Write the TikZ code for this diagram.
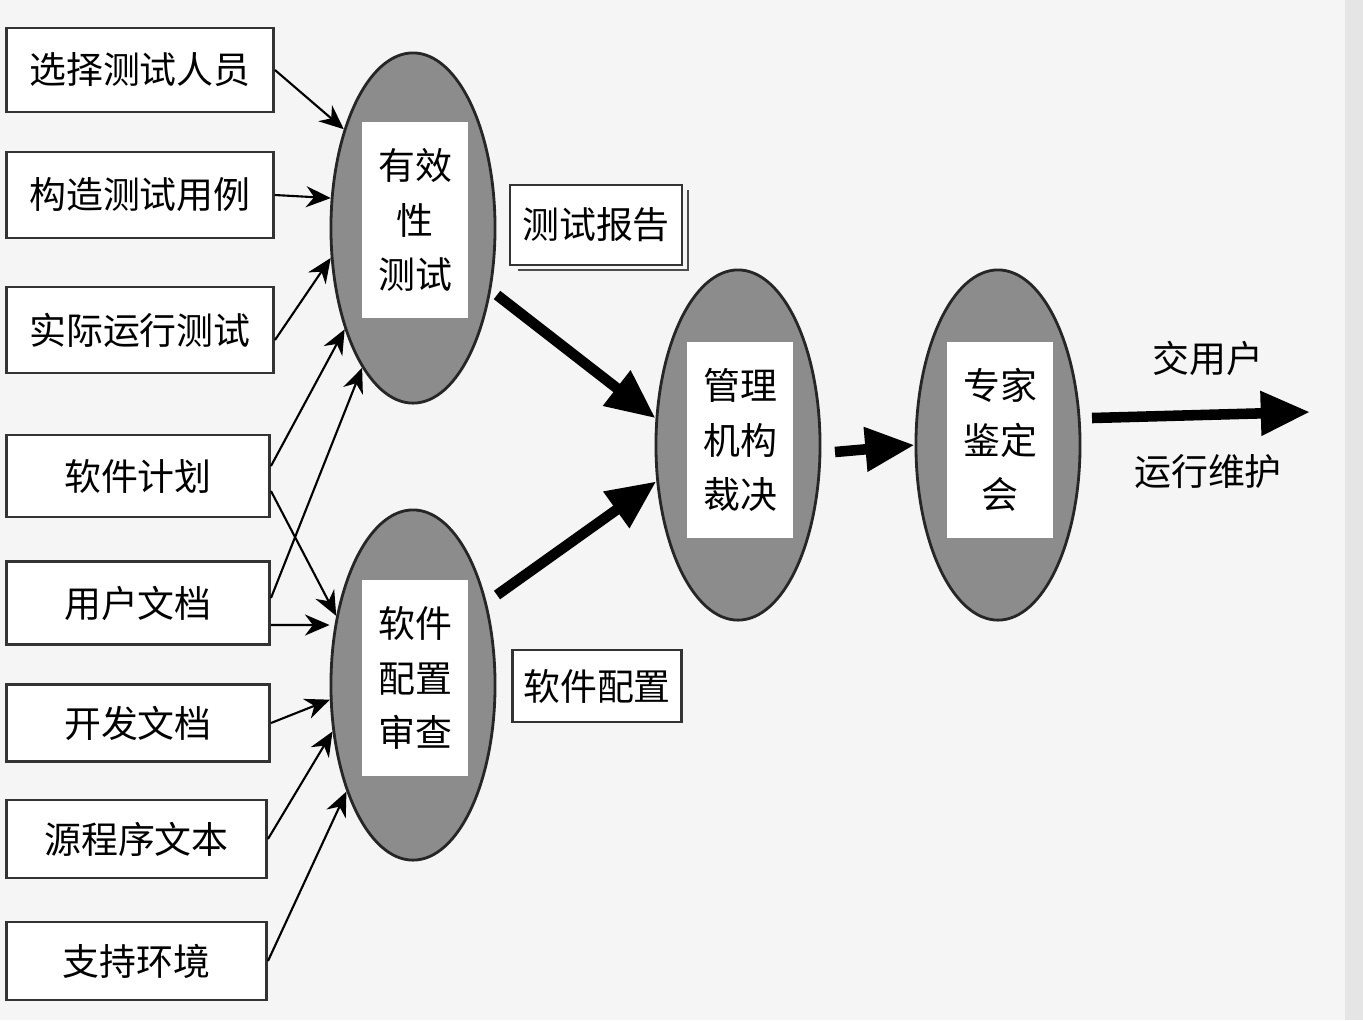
\documentclass[tikz,border=0pt]{standalone}
\usepackage{fontspec}
\setmainfont{Noto Sans CJK SC}
\usetikzlibrary{arrows.meta,shapes.geometric}
\begin{document}
\begin{tikzpicture}[x=0.01cm,y=-0.01cm,
  lbox/.style={draw=black!80,line width=0.8pt,fill=white,anchor=west,font=\fontsize{10.5}{12}\selectfont,inner sep=0pt},
  ell/.style={ellipse,draw=black!85,line width=0.8pt,fill=black!45,minimum width=1.64cm,minimum height=3.5cm},
  inner/.style={fill=white,minimum width=1.06cm,minimum height=1.95cm,align=center,font=\fontsize{10.5}{15.5}\selectfont,inner sep=0pt},
  thin/.style={-{Stealth[length=7pt,width=6pt]},line width=0.6pt},
  fat/.style={-{Triangle[length=14pt,width=12pt]},line width=3pt}]
\fill[black!4] (0,0) rectangle (1363,1020);
\fill[black!10] (1345,0) rectangle (1363,1020);
\useasboundingbox (0,0) rectangle (1363,1020);
\node[lbox,minimum width=2.67cm,minimum height=0.84cm] (b1) at (5,70) {选择测试人员};
\node[lbox,minimum width=2.67cm,minimum height=0.86cm] (b2) at (5,195) {构造测试用例};
\node[lbox,minimum width=2.67cm,minimum height=0.86cm] (b3) at (5,330) {实际运行测试};
\node[lbox,minimum width=2.63cm,minimum height=0.82cm] (b4) at (5,476) {软件计划};
\node[lbox,minimum width=2.63cm,minimum height=0.83cm] (b5) at (5,603) {用户文档};
\node[lbox,minimum width=2.63cm,minimum height=0.77cm] (b6) at (5,723) {开发文档};
\node[lbox,minimum width=2.60cm,minimum height=0.78cm] (b7) at (5,839) {源程序文本};
\node[lbox,minimum width=2.60cm,minimum height=0.78cm] (b8) at (5,961) {支持环境};
\node[ell] (e1) at (413,228) {};
\node[inner] (i1) at (415,220) {有效\\性\\测试};
\node[ell] (e2) at (413,685) {};
\node[inner] (i2) at (415,678) {软件\\配置\\审查};
\node[ell] (e3) at (738,445) {};
\node[inner] (i3) at (740,440) {管理\\机构\\裁决};
\node[ell] (e4) at (998,445) {};
\node[inner] (i4) at (1000,440) {专家\\鉴定\\会};
\draw[line width=0.8pt,black!70] (518,270) -- (688,270) -- (688,190);
\node[draw=black!80,line width=0.8pt,fill=white,minimum width=1.72cm,minimum height=0.8cm,font=\fontsize{10.5}{12}\selectfont,inner sep=0pt] (r1) at (596,225) {测试报告};
\node[draw=black!80,line width=0.8pt,fill=white,minimum width=1.69cm,minimum height=0.72cm,font=\fontsize{10.5}{12}\selectfont,inner sep=0pt] (r2) at (597,686) {软件配置};
\node[font=\fontsize{10.5}{12}\selectfont] (t1) at (1208,358) {交用户};
\node[font=\fontsize{10.5}{12}\selectfont] (t2) at (1208,472) {运行维护};
\coordinate (o1) at (1092,418);
\coordinate (o2) at (1310,412);
\coordinate (f1) at (497,295);
\coordinate (f2) at (497,595);
\coordinate (f3) at (835,452);
\draw[thin] (b1.east) -- (e1.125);
\draw[thin] (b2.east) -- (e1.160);
\draw[thin] ([yshift=-0.1cm]b3.east) -- (e1.200);
\draw[thin] ([yshift=0.1cm]b4.east) -- (e1.236);
\draw[thin] ([yshift=-0.15cm]b4.east) -- (e2.138);
\draw[thin] ([yshift=0.05cm]b5.east) -- (e1.250);
\draw[thin] ([yshift=-0.22cm]b5.east) -- (e2.west |- 0,625);
\draw[thin] (b6.east) -- (e2.190);
\draw[thin] (b7.east) -- (e2.210);
\draw[thin] (b8.east) -- (e2.238);
\draw[fat] (f1) -- (e3.162);
\draw[fat] (f2) -- (e3.204);
\draw[fat] (f3) -- (e4.west);
\draw[fat] (o1) -- (o2);
\end{tikzpicture}
\end{document}
